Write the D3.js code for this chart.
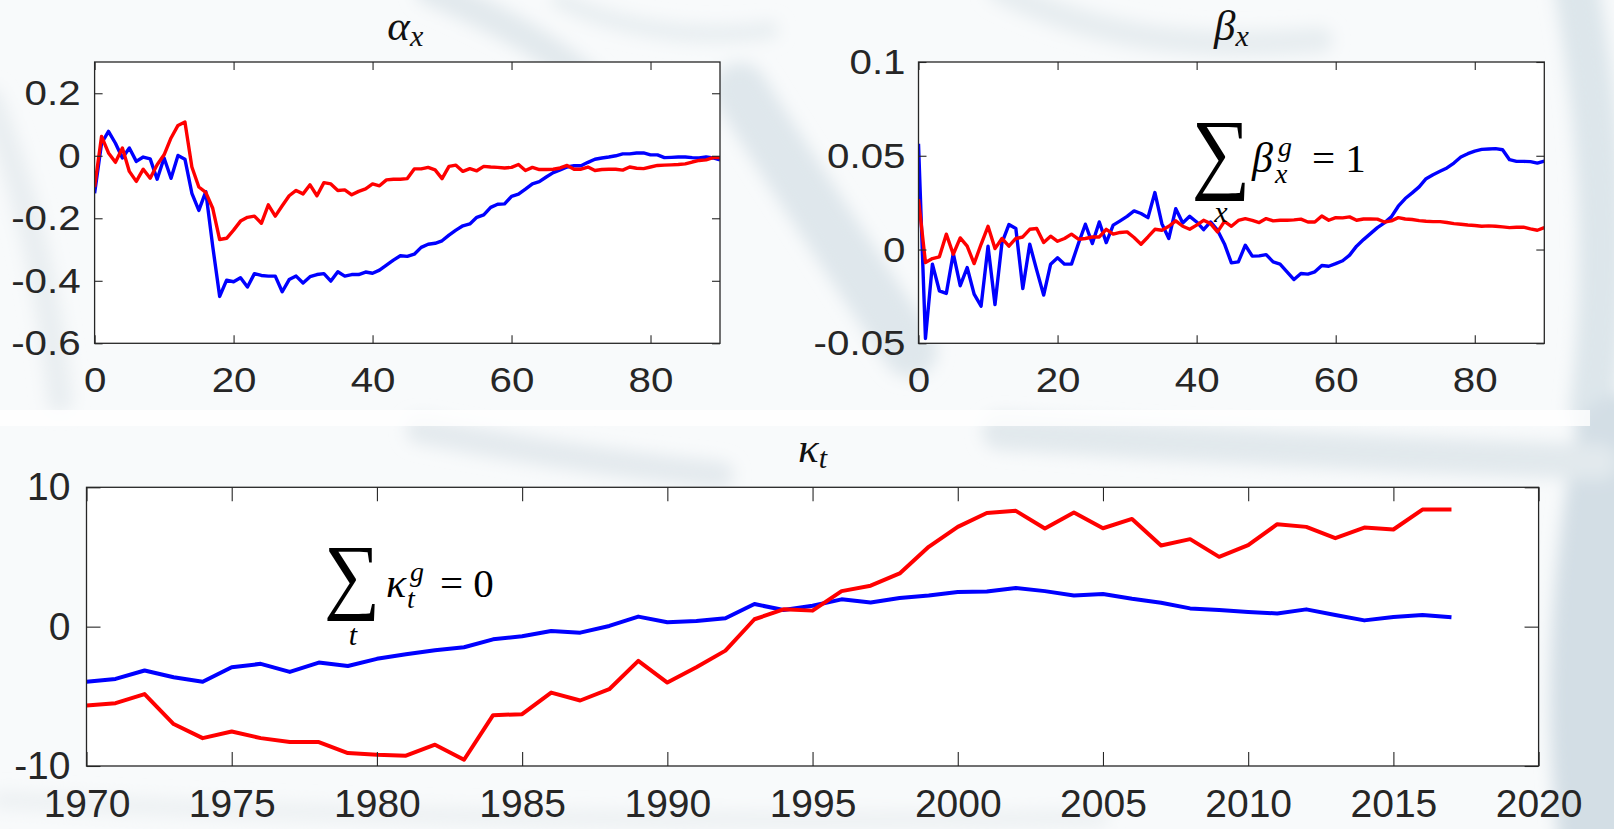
<!DOCTYPE html>
<html>
<head>
<meta charset="utf-8">
<script src="https://cdn.jsdelivr.net/npm/d3@7"></script>
<style>
  html, body { margin: 0; padding: 0; background: #ffffff; }
  svg { display: block; }
  .tick text { fill: #262626; font-family: "Liberation Sans", Arial, sans-serif; }
</style>
</head>
<body>
<svg id="fig" width="1614" height="829"></svg>
<script>
// ---- data -------------------------------------------------------------
const ages = d3.range(0, 91);

const alphaGroup1 = [-0.12, 0.04, 0.078, 0.04, -0.007, 0.025, -0.018, -0.004, -0.01, -0.075,
  -0.007, -0.072, 0.001, -0.011, -0.12, -0.175, -0.115, -0.29, -0.45, -0.398,
  -0.403, -0.39, -0.42, -0.377, -0.383, -0.385, -0.385, -0.435, -0.396, -0.385,
  -0.407, -0.387, -0.38, -0.377, -0.401, -0.371, -0.385, -0.38, -0.38, -0.372,
  -0.376, -0.366, -0.35, -0.334, -0.32, -0.322, -0.315, -0.293, -0.283, -0.28,
  -0.272, -0.254, -0.238, -0.224, -0.218, -0.197, -0.189, -0.165, -0.155, -0.154,
  -0.13, -0.123, -0.107, -0.09, -0.083, -0.068, -0.054, -0.045, -0.036, -0.032,
  -0.032, -0.021, -0.011, -0.007, -0.004, 0, 0.006, 0.006, 0.009, 0.009,
  0.003, 0.003, -0.006, -0.005, -0.004, -0.004, -0.006, -0.007, -0.004, -0.007, -0.013];

const alphaGroup2 = [-0.10, 0.062, 0.009, -0.021, 0.025, -0.05, -0.082, -0.043, -0.072, -0.029,
  0.003, 0.057, 0.097, 0.108, -0.036, -0.10, -0.117, -0.168, -0.268, -0.264,
  -0.238, -0.209, -0.197, -0.193, -0.216, -0.157, -0.193, -0.16, -0.128, -0.111,
  -0.122, -0.093, -0.128, -0.086, -0.09, -0.111, -0.109, -0.125, -0.114, -0.106,
  -0.09, -0.096, -0.077, -0.075, -0.075, -0.073, -0.042, -0.042, -0.037, -0.045,
  -0.073, -0.034, -0.03, -0.05, -0.041, -0.048, -0.034, -0.036, -0.037, -0.039,
  -0.037, -0.028, -0.047, -0.037, -0.044, -0.044, -0.043, -0.039, -0.031, -0.043,
  -0.043, -0.036, -0.047, -0.044, -0.043, -0.043, -0.046, -0.036, -0.04, -0.041,
  -0.036, -0.031, -0.03, -0.029, -0.028, -0.026, -0.02, -0.015, -0.013, -0.006, -0.006];

const betaGroup1 = [0.0564, -0.0474, -0.0078, -0.022, -0.0234, -0.0021, -0.0193, -0.0096, -0.0238, -0.0302,
  0.0018, -0.0293, 0.0035, 0.0133, 0.0112, -0.0208, 0.0028, -0.011, -0.0243, -0.0078,
  -0.0044, -0.0078, -0.0078, 0.0032, 0.0135, 0.0032, 0.0147, 0.0037, 0.013, 0.0153,
  0.0177, 0.0206, 0.0192, 0.017, 0.0304, 0.0138, 0.0059, 0.0218, 0.0142, 0.0177,
  0.0147, 0.0106, 0.0147, 0.0103, 0.003, -0.0071, -0.0066, 0.0023, -0.0035, -0.0034,
  -0.0027, -0.0066, -0.0078, -0.0119, -0.016, -0.0128, -0.0131, -0.0119, -0.0085, -0.0089,
  -0.0075, -0.006, -0.003, 0.0018, 0.0053, 0.0085, 0.0117, 0.0142, 0.0174, 0.0231,
  0.0272, 0.0302, 0.0334, 0.0378, 0.0399, 0.0417, 0.0435, 0.0461, 0.0493, 0.0511,
  0.0525, 0.0534, 0.0536, 0.0538, 0.0532, 0.0479, 0.047, 0.047, 0.0469, 0.0461, 0.0472];

const betaGroup2 = [0.0268, -0.0069, -0.0048, -0.0039, 0.0082, -0.0025, 0.0062, 0.0018, -0.0075, 0.0028,
  0.0124, 0.0005, 0.0059, 0.0018, 0.0059, 0.0067, 0.0108, 0.0112, 0.0037, 0.0071,
  0.0044, 0.0059, 0.0082, 0.0055, 0.0059, 0.0067, 0.0067, 0.0108, 0.0082, 0.0091,
  0.0094, 0.0064, 0.0028, 0.0067, 0.0108, 0.0103, 0.0124, 0.0153, 0.0124, 0.0108,
  0.013, 0.0156, 0.0138, 0.0094, 0.015, 0.0124, 0.0155, 0.0165, 0.0156, 0.0144,
  0.0165, 0.0153, 0.0156, 0.0156, 0.0158, 0.0162, 0.0147, 0.0147, 0.0179, 0.0156,
  0.017, 0.0169, 0.0174, 0.0156, 0.0163, 0.0163, 0.0162, 0.0147, 0.0153, 0.017,
  0.0163, 0.016, 0.0154, 0.0151, 0.0149, 0.0149, 0.0144, 0.0138, 0.0135, 0.0131,
  0.0128, 0.0124, 0.0126, 0.0124, 0.0121, 0.0117, 0.0119, 0.0119, 0.011, 0.0103, 0.0117];

const years = [1970, 1971, 1972, 1973, 1974, 1975, 1976, 1977, 1978, 1979,
  1980, 1981, 1982, 1983, 1984, 1985, 1986, 1987, 1988, 1989,
  1990, 1991, 1992, 1993, 1994, 1995, 1996, 1997, 1998, 1999,
  2000, 2001, 2002, 2003, 2004, 2005, 2006, 2007, 2008, 2009,
  2010, 2011, 2012, 2013, 2014, 2015, 2016, 2017];

const kappaGroup1 = [-3.95, -3.75, -3.15, -3.63, -3.96, -2.91, -2.67, -3.25, -2.58, -2.82,
  -2.31, -1.98, -1.69, -1.48, -0.91, -0.69, -0.31, -0.43, 0.05, 0.72,
  0.31, 0.41, 0.60, 1.62, 1.19, 1.50, 1.96, 1.74, 2.05, 2.24,
  2.48, 2.53, 2.77, 2.55, 2.24, 2.34, 2.00, 1.72, 1.31, 1.19,
  1.05, 0.95, 1.24, 0.84, 0.45, 0.69, 0.84, 0.67];

const kappaGroup2 = [-5.66, -5.49, -4.84, -6.99, -8.00, -7.52, -8.00, -8.28, -8.28, -9.07,
  -9.19, -9.26, -8.47, -9.55, -6.35, -6.28, -4.73, -5.30, -4.49, -2.46,
  -4.01, -2.91, -1.72, 0.53, 1.24, 1.15, 2.55, 2.94, 3.82, 5.73,
  7.16, 8.16, 8.31, 7.04, 8.19, 7.06, 7.73, 5.82, 6.28, 5.01,
  5.85, 7.35, 7.16, 6.35, 7.11, 6.97, 8.40, 8.40];

const ageTicks = [0, 20, 40, 60, 80];
const alphaTicks = [-0.6, -0.4, -0.2, 0, 0.2];
const betaTicks = [-0.05, 0, 0.05, 0.1];
const yearTicks = [1970, 1975, 1980, 1985, 1990, 1995, 2000, 2005, 2010, 2015, 2020];
const kappaTicks = [-10, 0, 10];

const COLOR1 = "#0000ff";
const COLOR2 = "#ff0000";
const INK = "#262626";
const SERIF = "'Liberation Serif', 'Times New Roman', serif";

// ---- canvas -----------------------------------------------------------
const svg = d3.select("#fig");
const defs = svg.append("defs");
defs.append("filter").attr("id", "soft").attr("x", "-20%").attr("y", "-20%")
  .attr("width", "140%").attr("height", "140%")
  .append("feGaussianBlur").attr("stdDeviation", 8);

// pale, soft backdrop behind the figure
svg.append("rect").attr("width", 1614).attr("height", 829).attr("fill", "#f8fafb");
const bg = svg.append("g").attr("filter", "url(#soft)").attr("fill", "none");
const bgStrokes = [
  {d: "M430,-10 C500,20 560,50 620,110", w: 30, c: "#e2e9ed"},
  {d: "M560,0 C620,30 700,40 770,30", w: 18, c: "#e8eef1"},
  {d: "M-10,100 C30,200 50,300 60,400", w: 26, c: "#e9eef1"},
  {d: "M740,90 C790,170 850,260 910,350", w: 55, c: "#dfe7ec"},
  {d: "M1000,-10 C1100,40 1200,50 1320,40", w: 26, c: "#e7edf0"},
  {d: "M1575,-20 C1600,120 1610,260 1592,410", w: 45, c: "#dde6eb"},
  {d: "M1620,440 C1598,560 1585,700 1605,850", w: 90, c: "#d3dee5"},
  {d: "M420,430 C520,450 620,465 720,475", w: 28, c: "#e4eaee"},
  {d: "M1000,432 C1200,445 1400,455 1600,462", w: 36, c: "#e2e9ed"},
  {d: "M0,800 C300,815 700,825 1100,818", w: 18, c: "#edf1f3"}
];
bg.selectAll("path").data(bgStrokes).join("path")
  .attr("d", d => d.d).attr("stroke", d => d.c)
  .attr("stroke-width", d => d.w).attr("stroke-linecap", "round");
svg.append("rect").attr("x", 0).attr("y", 410).attr("width", 1590).attr("height", 16)
  .attr("fill", "#ffffff").attr("opacity", 0.8);

// ---- panel helper -----------------------------------------------------
function panel(cfg) {
  const x = d3.scaleLinear().domain(cfg.xDomain).range([cfg.left, cfg.right]);
  const y = d3.scaleLinear().domain(cfg.yDomain).range([cfg.bottom, cfg.top]);
  const g = svg.append("g");

  g.append("rect")
    .attr("x", cfg.left).attr("y", cfg.top)
    .attr("width", cfg.right - cfg.left).attr("height", cfg.bottom - cfg.top)
    .attr("fill", "#ffffff");

  const clipId = "clip-" + cfg.id;
  defs.append("clipPath").attr("id", clipId).append("rect")
    .attr("x", cfg.left).attr("y", cfg.top - 3)
    .attr("width", cfg.right - cfg.left).attr("height", cfg.bottom - cfg.top + 6);

  const line = d3.line().x((d, i) => x(cfg.xs[i])).y(d => y(d));
  const lines = g.append("g").attr("clip-path", `url(#${clipId})`);
  cfg.series.forEach(s => {
    lines.append("path").datum(s.values)
      .attr("d", line)
      .attr("fill", "none")
      .attr("stroke", s.color)
      .attr("stroke-width", cfg.lw)
      .attr("stroke-linejoin", "round");
  });

  const fmt = d => String(d);
  const styleAxis = sel => {
    sel.select(".domain").remove();
    sel.selectAll(".tick line").attr("stroke", INK).attr("stroke-width", 1.1);
    sel.selectAll(".tick text").attr("font-size", cfg.fs).each(function () {
      // labels in this figure are drawn slightly wide
      const tx = +this.getAttribute("x") || 0;
      this.setAttribute("x", tx / cfg.stretch);
      this.setAttribute("transform", `scale(${cfg.stretch},1)`);
    });
  };
  g.append("g").attr("transform", `translate(0,${cfg.bottom})`)
    .call(d3.axisBottom(x).tickValues(cfg.xTicks).tickFormat(fmt)
      .tickSize(-cfg.tick).tickPadding(cfg.xPad))
    .call(styleAxis);
  g.append("g").attr("transform", `translate(0,${cfg.top})`)
    .call(d3.axisTop(x).tickValues(cfg.xTicks).tickFormat("").tickSize(-cfg.tick))
    .call(styleAxis);
  g.append("g").attr("transform", `translate(${cfg.left},0)`)
    .call(d3.axisLeft(y).tickValues(cfg.yTicks).tickFormat(fmt)
      .tickSize(-cfg.tick).tickPadding(cfg.yPad))
    .call(styleAxis);
  g.append("g").attr("transform", `translate(${cfg.right},0)`)
    .call(d3.axisRight(y).tickValues(cfg.yTicks).tickFormat("").tickSize(-cfg.tick))
    .call(styleAxis);

  g.append("rect")
    .attr("x", cfg.left).attr("y", cfg.top)
    .attr("width", cfg.right - cfg.left).attr("height", cfg.bottom - cfg.top)
    .attr("fill", "none").attr("stroke", INK).attr("stroke-width", 1.3);

  // italic title with subscript
  const t = svg.append("text")
    .attr("x", (cfg.left + cfg.right) / 2 + cfg.titleDx).attr("y", cfg.titleY)
    .attr("text-anchor", "middle")
    .attr("font-family", SERIF)
    .attr("font-style", "italic").attr("font-size", 43).attr("fill", "#111");
  t.append("tspan").text(cfg.title[0]);
  t.append("tspan").attr("font-size", 30).attr("dy", 6).text(cfg.title[1]);
  return {x, y};
}

panel({
  id: "alpha", left: 94.6, right: 720, top: 62, bottom: 343.3,
  xDomain: [0, 90], yDomain: [-0.6, 0.3], xs: ages,
  xTicks: ageTicks, yTicks: alphaTicks, tick: 8, lw: 3.4, fs: 36, stretch: 1.12, xPad: 23, yPad: 14,
  series: [{values: alphaGroup1, color: COLOR1}, {values: alphaGroup2, color: COLOR2}],
  title: ["α", "x"], titleY: 40, titleDx: -2
});

panel({
  id: "beta", left: 918.5, right: 1544.3, top: 62, bottom: 343.3,
  xDomain: [0, 90], yDomain: [-0.05, 0.1], xs: ages,
  xTicks: ageTicks, yTicks: betaTicks, tick: 8, lw: 3.4, fs: 36, stretch: 1.12, xPad: 23, yPad: 13,
  series: [{values: betaGroup1, color: COLOR1}, {values: betaGroup2, color: COLOR2}],
  title: ["β", "x"], titleY: 40, titleDx: 0
});

panel({
  id: "kappa", left: 86.5, right: 1538.6, top: 487.3, bottom: 766,
  xDomain: [1970, 2020], yDomain: [-10, 10], xs: years,
  xTicks: yearTicks, yTicks: kappaTicks, tick: 14, lw: 4, fs: 39, stretch: 1, xPad: 23, yPad: 16,
  series: [{values: kappaGroup1, color: COLOR1}, {values: kappaGroup2, color: COLOR2}],
  title: ["κ", "t"], titleY: 462, titleDx: 0
});

// ---- constraint annotations ------------------------------------------
function constraint(opt) {
  const g = svg.append("g").attr("fill", "#000");
  g.append("text")
    .attr("transform", `translate(${opt.sx},${opt.sy}) scale(${opt.sScaleX},1)`)
    .attr("text-anchor", "middle").attr("font-family", SERIF)
    .attr("font-size", opt.sSize).text("∑");
  g.append("text").attr("x", opt.subX).attr("y", opt.subY)
    .attr("text-anchor", "middle").attr("font-family", SERIF)
    .attr("font-style", "italic").attr("font-size", 30).text(opt.index);
  g.append("text").attr("x", opt.symX).attr("y", opt.base)
    .attr("font-family", SERIF).attr("font-style", "italic")
    .attr("font-size", 42).text(opt.sym);
  g.append("text").attr("x", opt.supX).attr("y", opt.base - 16)
    .attr("font-family", SERIF).attr("font-style", "italic")
    .attr("font-size", 28).text("g");
  g.append("text").attr("x", opt.supX - 3).attr("y", opt.base + 11)
    .attr("font-family", SERIF).attr("font-style", "italic")
    .attr("font-size", 28).text(opt.index);
  g.append("text").attr("x", opt.eqX).attr("y", opt.base)
    .attr("font-family", SERIF).attr("font-size", 41).text(opt.rhs);
}

constraint({sx: 1221, sy: 182, sSize: 90, sScaleX: 0.92, index: "x", subX: 1221, subY: 222,
  sym: "β", symX: 1252, supX: 1278, base: 172, eqX: 1312, rhs: "= 1"});
constraint({sx: 352, sy: 603, sSize: 84, sScaleX: 0.94, index: "t", subX: 353, subY: 645,
  sym: "κ", symX: 386, supX: 410, base: 597, eqX: 440, rhs: "= 0"});
</script>
</body>
</html>
